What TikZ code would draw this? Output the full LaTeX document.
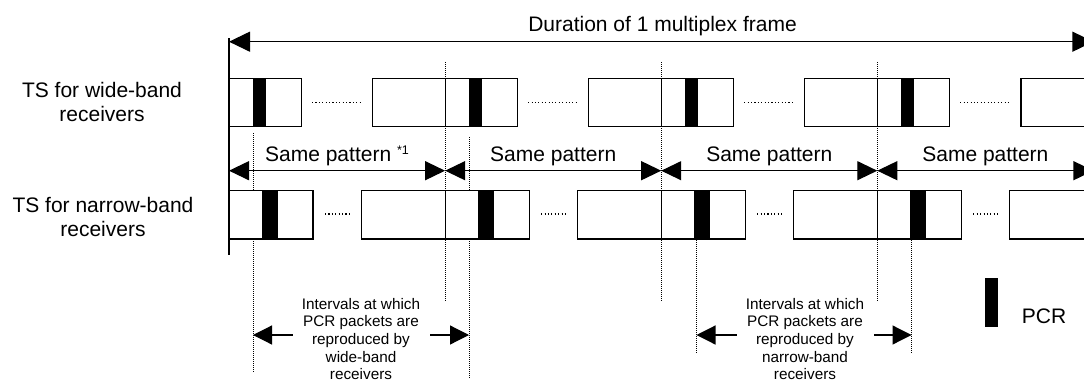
\documentclass[tikz,border=0pt]{standalone}
\usepackage{fontspec}
\setmainfont{Liberation Sans}
\usetikzlibrary{arrows.meta}
\begin{document}
\begin{tikzpicture}[x=1pt,y=-1pt,
  box/.style={draw=black, fill=white, line width=1.2pt},
  divider/.style={line width=1.2pt},
  pcrbar/.style={fill=black},
  guide/.style={line width=1pt, dash pattern=on 1pt off 1pt},
  ellipsis/.style={line width=1.1pt, dash pattern=on 1.1pt off 2.3pt},
  spanarrow/.style={line width=1.2pt, {Triangle[length=20pt,width=19pt]}-{Triangle[length=20pt,width=19pt]}},
  toarrow/.style={line width=1.2pt, -{Triangle[length=19pt,width=19pt]}},
  big/.style={font=\fontsize{21}{24.5}\selectfont, inner sep=0pt},
  small/.style={font=\fontsize{15.3}{17.7}\selectfont, inner sep=0pt, align=center},
]
\useasboundingbox (0,0) rectangle (1084,383);
\clip (0,0) rectangle (1084,383);

% frame duration
\coordinate (fl) at (229,41.7);
\coordinate (fr) at (1093.4,41.7);
\draw[line width=1.2pt] (229,38) -- (229,255);
\draw[line width=1.2pt, {Triangle[length=21pt,width=20pt]}-{Triangle[length=21pt,width=20pt]}] (fl) -- (fr);
\node[big, anchor=base] (dur) at (662.5,31.5) {Duration of 1 multiplex frame};

% row labels
\node[big, align=center] (lw) at (102,102) {TS for wide-band\\receivers};
\node[big, align=center] (ln) at (103,217) {TS for narrow-band\\receivers};

% dotted guides at pattern boundaries
\foreach \x in {445.1,661.2,877.3} {
  \draw[guide] (\x,62) -- (\x,302);
}
% dotted guides at PCR positions
\draw[guide] (253,133) -- (253,373);
\draw[guide] (469,137) -- (469,378);
\draw[guide] (696.5,240) -- (696.5,353);
\draw[guide] (911.5,240) -- (911.5,353);

% wide-band row
\draw[box] (229,78.7) rectangle (301.5,126.7);
\fill[pcrbar] (252.5,78.7) rectangle (266,126.7);
\draw[ellipsis] (312,102.7) -- (361,102.7);
\foreach \k in {1,2,3,4} {
  \pgfmathsetmacro\d{229+216.1*\k}
  \draw[box] (\d-72.5,78.7) rectangle (\d+72.5,126.7);
  \draw[divider] (\d,78.7) -- (\d,126.7);
  \fill[pcrbar] (\d+23.5,78.7) rectangle (\d+37,126.7);
  \draw[ellipsis] (\d+83,102.7) -- (\d+132,102.7);
}

% narrow-band row
\draw[box] (229,190.7) rectangle (313,239);
\fill[pcrbar] (262,190.7) rectangle (278,239);
\draw[ellipsis] (325,214) -- (350,214);
\foreach \k in {1,2,3,4} {
  \pgfmathsetmacro\d{229+216.1*\k}
  \draw[box] (\d-84,190.7) rectangle (\d+84,239);
  \draw[divider] (\d,190.7) -- (\d,239);
  \fill[pcrbar] (\d+33,190.7) rectangle (\d+49,239);
  \draw[ellipsis] (\d+96,214) -- (\d+121,214);
}

% same pattern arrows
\coordinate (p0) at (229,170.7);
\coordinate (p1) at (445.1,170.7);
\coordinate (p2) at (661.2,170.7);
\coordinate (p3) at (877.3,170.7);
\coordinate (p4) at (1093.4,170.7);
\draw[spanarrow] (p0) -- (p1);
\draw[spanarrow] (p1) -- (p2);
\draw[spanarrow] (p2) -- (p3);
\draw[spanarrow] (p3) -- (p4);
\node[big, anchor=base] (s1) at (337,161.5) {Same pattern \raisebox{7pt}{\fontsize{12.5}{14}\selectfont *1}};
\node[big, anchor=base] (s2) at (553.2,161.5) {Same pattern};
\node[big, anchor=base] (s3) at (769.3,161.5) {Same pattern};
\node[big, anchor=base] (s4) at (985.4,161.5) {Same pattern};

% intervals (wide-band)
\node[small] (iw) at (361,339) {Intervals at which\\PCR packets are\\reproduced by\\wide-band\\receivers};
\coordinate (wl) at (253,335);
\coordinate (wr) at (469,335);
\draw[toarrow] (292.7,335) -- (wl);
\draw[toarrow] (430,335) -- (wr);

% intervals (narrow-band)
\node[small] (in) at (805,339) {Intervals at which\\PCR packets are\\reproduced by\\narrow-band\\receivers};
\coordinate (nl) at (696.5,335);
\coordinate (nr) at (911.5,335);
\draw[toarrow] (736.5,335) -- (nl);
\draw[toarrow] (874,335) -- (nr);

% legend
\fill[pcrbar] (984.5,278.3) rectangle (998.3,326.7) coordinate (leg);
\node[big, anchor=base west] (pcr) at (1021.7,323.5) {PCR};
\end{tikzpicture}
\end{document}
